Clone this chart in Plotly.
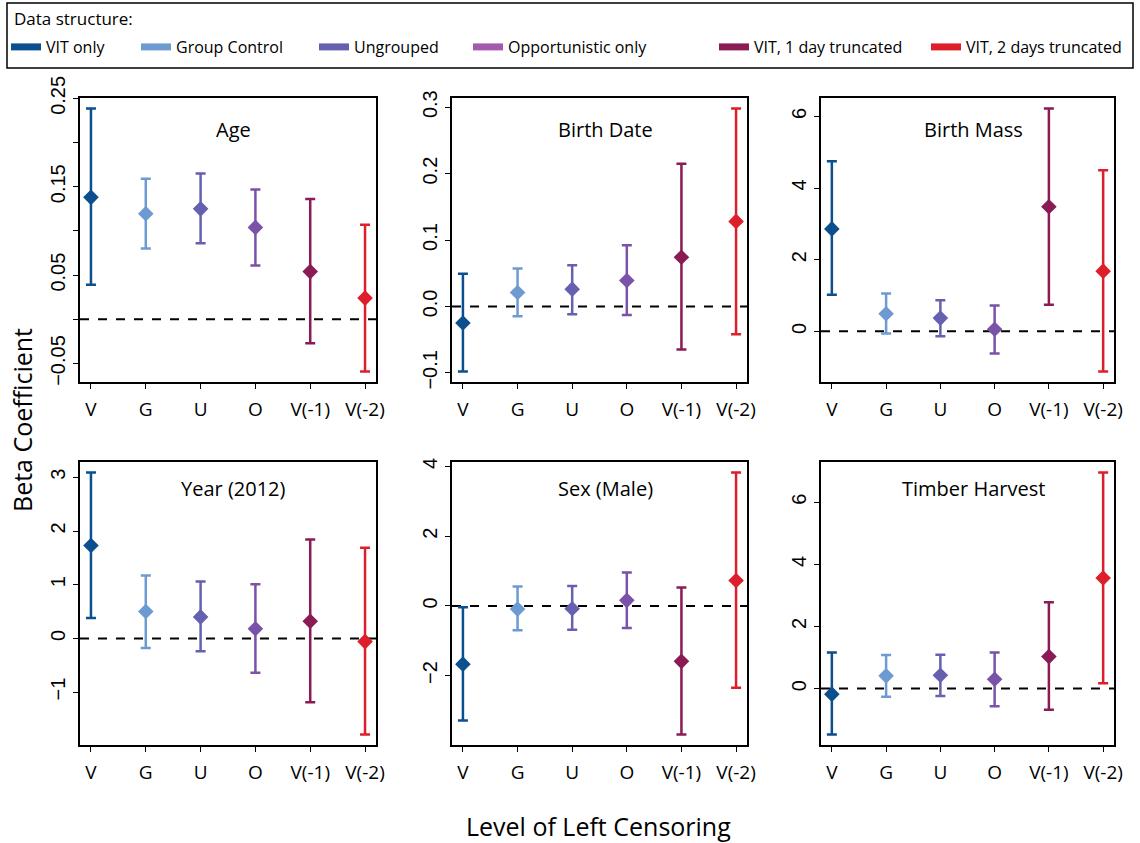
import plotly.graph_objects as go

# ---------------- data ----------------
levels = ["V", "G", "U", "O", "V(-1)", "V(-2)"]
structures = ["VIT only", "Group Control", "Ungrouped", "Opportunistic only",
              "VIT, 1 day truncated", "VIT, 2 days truncated"]
point_colors = ["#0B4F8E", "#6E9AD2", "#6660B0", "#7A52A8", "#8A1B55", "#DC1F2A"]
legend_colors = ["#0B4F8E", "#6E9AD2", "#6660B0", "#A35AAE", "#8A1B55", "#DC1F2A"]

panels = ["Age", "Birth Date", "Birth Mass", "Year (2012)", "Sex (Male)", "Timber Harvest"]

age_est = [0.138, 0.1195, 0.125, 0.104, 0.054, 0.024]
age_lo = [0.039, 0.080, 0.086, 0.061, -0.027, -0.059]
age_hi = [0.2385, 0.159, 0.165, 0.147, 0.136, 0.107]

bdate_est = [-0.025, 0.021, 0.026, 0.039, 0.074, 0.128]
bdate_lo = [-0.098, -0.015, -0.012, -0.013, -0.065, -0.042]
bdate_hi = [0.049, 0.057, 0.062, 0.092, 0.215, 0.298]

bmass_est = [2.86, 0.49, 0.37, 0.06, 3.48, 1.68]
bmass_lo = [1.02, -0.06, -0.14, -0.62, 0.74, -1.12]
bmass_hi = [4.75, 1.06, 0.87, 0.72, 6.22, 4.50]

year_est = [1.73, 0.50, 0.40, 0.18, 0.32, -0.06]
year_lo = [0.38, -0.18, -0.24, -0.64, -1.19, -1.79]
year_hi = [3.09, 1.17, 1.06, 1.01, 1.84, 1.69]

sex_est = [-1.67, -0.09, -0.08, 0.16, -1.59, 0.73]
sex_lo = [-3.29, -0.70, -0.68, -0.63, -3.69, -2.35]
sex_hi = [-0.04, 0.56, 0.57, 0.96, 0.53, 3.83]

timber_est = [-0.18, 0.41, 0.43, 0.30, 1.03, 3.56]
timber_lo = [-1.48, -0.26, -0.24, -0.57, -0.68, 0.17]
timber_hi = [1.16, 1.08, 1.09, 1.16, 2.78, 6.96]

panel_data = [
    (age_est, age_lo, age_hi),
    (bdate_est, bdate_lo, bdate_hi),
    (bmass_est, bmass_lo, bmass_hi),
    (year_est, year_lo, year_hi),
    (sex_est, sex_lo, sex_hi),
    (timber_est, timber_lo, timber_hi),
]

ytick_vals = [
    [-0.05, 0.0, 0.05, 0.10, 0.15, 0.20, 0.25],
    [-0.1, 0.0, 0.1, 0.2, 0.3],
    [0, 2, 4, 6],
    [-1, 0, 1, 2, 3],
    [-2, 0, 2, 4],
    [0, 2, 4, 6],
]
ytick_text = [
    ["\u22120.05", "", "0.05", "", "0.15", "", "0.25"],
    ["\u22120.1", "0.0", "0.1", "0.2", "0.3"],
    ["0", "2", "4", "6"],
    ["\u22121", "0", "1", "2", "3"],
    ["\u22122", "0", "2", "4"],
    ["0", "2", "4", "6"],
]

# ---------------- layout geometry ----------------
W, H = 1140, 843
col_px = [(80, 376), (452, 747), (821, 1114)]
row_px = [(98, 382), (462, 745)]
legend_item_px = [6, 136, 314, 468, 714, 926]

fig = go.Figure()
layout = dict(
    width=W, height=H,
    margin=dict(l=0, r=0, t=0, b=0, autoexpand=False),
    paper_bgcolor="white", plot_bgcolor="white",
    showlegend=True,
    font=dict(family="Open Sans", color="black"),
)

pos = list(range(1, 7))
annotations = []
shapes = []
for p in range(6):
    r, c = divmod(p, 3)
    ax = "" if p == 0 else str(p + 1)
    est, lo, hi = panel_data[p]
    allv = lo + hi
    vmin, vmax = min(allv), max(allv)
    pad = 0.04 * (vmax - vmin)
    x0, x1 = col_px[c]
    y0, y1 = row_px[r]
    layout["xaxis" + ax] = dict(
        domain=[x0 / W, x1 / W], range=[0.8, 6.2], anchor="y" + ax,
        tickvals=pos, ticktext=levels, showline=True, mirror=True,
        linecolor="black", linewidth=1.5, ticks="outside", ticklen=5,
        tickwidth=1.2, tickcolor="black", showgrid=False, zeroline=False,
        tickfont=dict(family="Open Sans", size=19, color="black"),
        ticklabelstandoff=4,
    )
    layout["yaxis" + ax] = dict(
        domain=[1 - y1 / H, 1 - y0 / H], range=[vmin - pad, vmax + pad],
        anchor="x" + ax, tickvals=ytick_vals[p], ticktext=ytick_text[p],
        tickangle=-90, showline=True, mirror=True, linecolor="black",
        linewidth=1.5, ticks="outside", ticklen=5, tickwidth=1.2,
        tickcolor="black", showgrid=False, zeroline=False,
        tickfont=dict(family="Liberation Sans", size=20, color="black"),
    )
    # zero reference line
    shapes.append(dict(type="line", xref="x" + ax + " domain", yref="y" + ax,
                       x0=0, x1=1, y0=0, y1=0,
                       line=dict(color="black", width=2, dash="dash"),
                       layer="below"))
    for i in range(6):
        fig.add_trace(go.Scatter(
            x=[pos[i]], y=[est[i]], mode="markers",
            xaxis="x" + ax, yaxis="y" + ax, showlegend=False,
            marker=dict(symbol="diamond", size=12, color=point_colors[i]),
            error_y=dict(type="data", symmetric=False,
                         array=[hi[i] - est[i]], arrayminus=[est[i] - lo[i]],
                         color=point_colors[i], thickness=2.5, width=5),
        ))
    ty = 0.89 if r == 0 else 0.905
    annotations.append(dict(
        text=panels[p], xref="x" + ax + " domain", yref="y" + ax + " domain",
        x=0.52, y=ty, showarrow=False, xanchor="center", yanchor="middle",
        font=dict(family="Open Sans", size=20, color="black")))

# legend entries: one legend per entry so each sits at its own position
for i in range(6):
    lname = "legend" if i == 0 else "legend" + str(i + 1)
    fig.add_trace(go.Scatter(
        x=[None], y=[None], mode="lines", name=structures[i],
        line=dict(color=legend_colors[i], width=7), showlegend=True,
        legend=lname,
    ))
    layout[lname] = dict(
        orientation="h", x=legend_item_px[i] / W, y=1 - 47 / H,
        xanchor="left", yanchor="middle", borderwidth=0,
        bgcolor="rgba(0,0,0,0)", itemwidth=30,
        font=dict(family="Open Sans", size=16, color="black"),
    )

annotations.append(dict(text="Data structure:", x=12 / W, y=1 - 18 / H,
                        xref="paper", yref="paper", xanchor="left",
                        yanchor="middle", showarrow=False,
                        font=dict(family="Open Sans", size=17)))
annotations.append(dict(text="Beta Coefficient", x=22 / W, y=1 - 420 / H,
                        xref="paper", yref="paper", textangle=-90,
                        xanchor="center", yanchor="middle",
                        showarrow=False, font=dict(family="Open Sans", size=25)))
annotations.append(dict(text="Level of Left Censoring", x=598 / W, y=1 - 826 / H,
                        xref="paper", yref="paper", showarrow=False,
                        xanchor="center", yanchor="middle",
                        font=dict(family="Open Sans", size=25)))

# legend frame
shapes.append(dict(type="rect", xref="paper", yref="paper",
                   x0=7 / W, x1=1133 / W, y0=1 - 68 / H, y1=1 - 3 / H,
                   line=dict(color="black", width=1.5), fillcolor="rgba(0,0,0,0)"))

layout["annotations"] = annotations
layout["shapes"] = shapes
fig.update_layout(**layout)
fig.write_html("out.html")
